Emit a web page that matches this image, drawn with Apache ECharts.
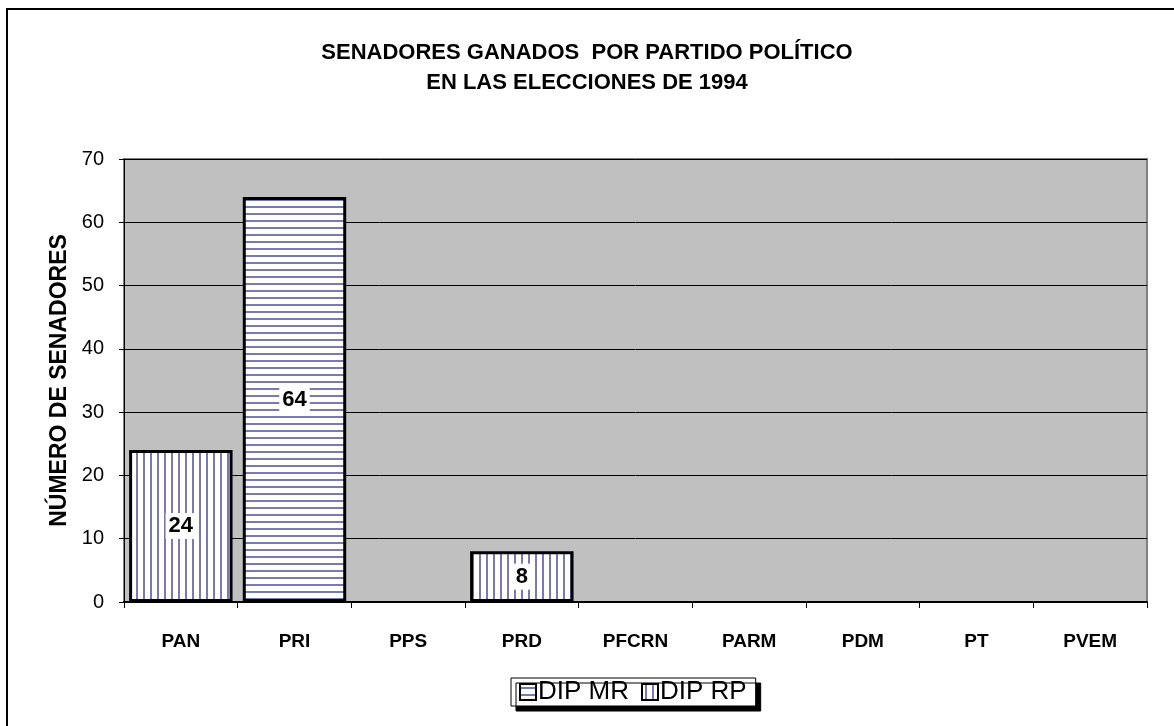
<!DOCTYPE html>
<html>
<head>
<meta charset="utf-8">
<script src="https://cdn.jsdelivr.net/npm/echarts@6/dist/echarts.min.js"></script>
<style>
html,body{margin:0;padding:0;background:#fff;}
#chart{width:1174px;height:726px;}
</style>
</head>
<body>
<div id="chart"></div>
<script>
const categories = ['PAN','PRI','PPS','PRD','PFCRN','PARM','PDM','PT','PVEM'];
const seriesNames = ['DIP MR','DIP RP'];
const dipMR = [0, 64, 0, 0, 0, 0, 0, 0, 0];
const dipRP = [24, 0, 0, 8, 0, 0, 0, 0, 0];
const yTicks = [0, 10, 20, 30, 40, 50, 60, 70];
const titleText = 'SENADORES GANADOS  POR PARTIDO POLÍTICO\nEN LAS ELECCIONES DE 1994';
const yName = 'NÚMERO DE SENADORES';

function stripePattern(horizontal) {
  const c = document.createElement('canvas');
  c.width = 7; c.height = 7;
  const ctx = c.getContext('2d');
  ctx.fillStyle = '#ffffff';
  ctx.fillRect(0, 0, 7, 7);
  ctx.fillStyle = '#7a7ab2';
  if (horizontal) ctx.fillRect(0, 3, 7, 2); else ctx.fillRect(3, 0, 2, 7);
  return { image: c, repeat: 'repeat' };
}

const font = 'Arial, "Liberation Sans", sans-serif';
const toData = arr => arr.map(v => (v === 0 ? '-' : v));

const chart = echarts.init(document.getElementById('chart'), null, { renderer: 'canvas' });

const barLabel = {
  show: true,
  position: 'inside',
  color: '#000',
  fontFamily: font,
  fontWeight: 'bold',
  fontSize: 22,
  backgroundColor: '#ffffff',
  padding: [3, 3, 1, 3]
};

chart.setOption({
  backgroundColor: '#ffffff',
  animation: false,
  title: {
    text: titleText,
    left: 'center',
    top: 38,
    padding: 0,
    textStyle: { fontFamily: font, fontWeight: 'bold', fontSize: 22, lineHeight: 30, color: '#000' }
  },
  graphic: [{
    type: 'rect',
    shape: { x: 7, y: 9, width: 1200, height: 760 },
    style: { fill: 'none', stroke: '#000', lineWidth: 2 },
    silent: true,
    z: 100
  }],
  legend: {
    data: seriesNames,
    left: 511,
    top: 678,
    orient: 'horizontal',
    icon: 'rect',
    itemWidth: 16,
    itemHeight: 16,
    itemGap: 12,
    padding: [1, 9, 1, 8],
    backgroundColor: '#ffffff',
    borderColor: '#000',
    borderWidth: 1,
    shadowColor: '#000',
    shadowBlur: 0,
    shadowOffsetX: 5,
    shadowOffsetY: 5,
    itemStyle: { borderColor: '#000', borderWidth: 2 },
    textStyle: { fontFamily: font, fontSize: 26, color: '#000', padding: [0, 0, 0, -3] }
  },
  grid: {
    left: 124, right: 27, top: 159, bottom: 124,
    show: true,
    backgroundColor: '#c0c0c0',
    borderColor: '#808080',
    borderWidth: 2
  },
  xAxis: {
    type: 'category',
    data: categories,
    axisLine: { show: true, lineStyle: { color: '#000', width: 2 } },
    axisTick: { show: true, length: 6, lineStyle: { color: '#000', width: 1 } },
    axisLabel: { margin: 30, color: '#000', fontFamily: font, fontWeight: 'bold', fontSize: 19, interval: 0 }
  },
  yAxis: {
    type: 'value',
    min: yTicks[0],
    max: yTicks[yTicks.length - 1],
    interval: 10,
    name: yName,
    nameLocation: 'middle',
    nameRotate: 90,
    nameGap: 46,
    nameTextStyle: { fontFamily: font, fontWeight: 'bold', fontSize: 23, color: '#000' },
    axisLine: { show: true, lineStyle: { color: '#000', width: 1 } },
    axisTick: { show: true, length: 5, lineStyle: { color: '#000' } },
    axisLabel: { margin: 20, color: '#000', fontFamily: font, fontSize: 20 },
    splitLine: { show: true, lineStyle: { color: '#000', width: 1 } }
  },
  series: [
    {
      name: seriesNames[0],
      type: 'bar',
      stack: 'total',
      data: toData(dipMR),
      barCategoryGap: '9%',
      itemStyle: { color: stripePattern(true), borderColor: '#000', borderWidth: 3 },
      label: barLabel
    },
    {
      name: seriesNames[1],
      type: 'bar',
      stack: 'total',
      data: toData(dipRP),
      barCategoryGap: '9%',
      itemStyle: { color: stripePattern(false), borderColor: '#000', borderWidth: 3 },
      label: barLabel
    }
  ]
});
</script>
</body>
</html>
